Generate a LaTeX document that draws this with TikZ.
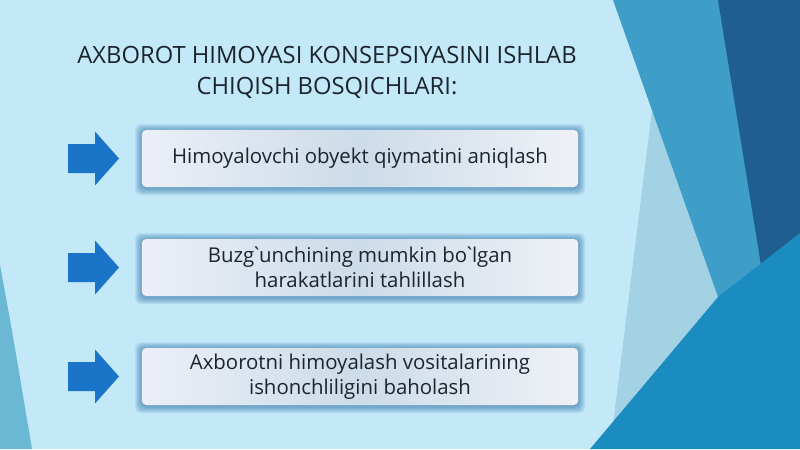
\documentclass[tikz,border=0pt]{standalone}
\usepackage{fontspec}
\setmainfont{Open Sans}[Ligatures=TeXOff]
\usepackage{xcolor}
\usetikzlibrary{calc}
\definecolor{bgblue}{RGB}{195,232,247}
\definecolor{paleblue}{RGB}{164,210,229}
\definecolor{midblue}{RGB}{62,158,200}
\definecolor{navyblue}{RGB}{31,94,142}
\definecolor{brightblue}{RGB}{27,140,191}
\definecolor{edgeblue}{RGB}{106,184,212}
\definecolor{arrowblue}{RGB}{26,116,200}
\definecolor{glowblue}{RGB}{40,110,165}
\definecolor{boxleft}{RGB}{236,239,247}
\definecolor{boxmid}{RGB}{204,220,232}
\definecolor{boxright}{RGB}{240,241,247}
\definecolor{textdark}{RGB}{28,36,46}
\newcommand{\grv}{\kern-0.17em`\kern-0.17em}
\tikzset{
	stepbox/.style={
			draw=none, rounded corners=3pt,
			minimum width=10.9cm, minimum height=1.425cm,
			align=center, text=textdark,
			font=\fontsize{14.5}{18}\selectfont,
			left color=boxleft, right color=boxright, middle color=boxmid
		},
	steparrow/.style={fill=arrowblue},
	glow/.style={fill=glowblue, opacity=0.1, rounded corners=4pt}
}

\begin{document}
\begin{tikzpicture}[x=0.025cm, y=-0.025cm]
			% Background and frame
			\fill[bgblue] (0,0) rectangle (800,449);
			\useasboundingbox (0,0) rectangle (800,449);

			% Facets on the right and left edges
			\fill[paleblue] (652,110) -- (718,297) -- (610,449) -- cycle;
			\fill[midblue] (613,0) -- (800,0) -- (800,300) -- (718,297) -- cycle;
			\fill[navyblue] (718,0) -- (800,0) -- (800,240) -- (765,290) -- cycle;
			\fill[brightblue] (590,449) -- (718,297) -- (800,233) -- (800,449) -- cycle;
			\fill[edgeblue] (0,265) .. controls (12,330) .. (32,449) -- (0,449) -- cycle;

			% Title
			\node[text=textdark, align=center, font=\fontsize{16.9}{22}\selectfont] (title) at (327,72)
				{AXBOROT HIMOYASI KONSEPSIYASINI ISHLAB\\CHIQISH BOSQICHLARI:};

			% Steps with their arrows
			\foreach \i/\y/\txt in {1/158.5/{Himoyalovchi obyekt qiymatini aniqlash},
					2/267.5/{Buzg\grv unchining mumkin bo\grv lgan\\harakatlarini tahlillash},
					3/376.5/{Axborotni himoyalash vositalarining\\ishonchliligini baholash}}{
					\foreach \k in {1,...,7}
						\fill[glow] (142-\k,\y-28.5-\k+1) rectangle (578+\k,\y+28.5+\k+1);
					\node[stepbox] (step\i) at (360,\y) {\txt};
					\fill[steparrow] (68,\y-14.5) -- (95,\y-14.5) -- (95,\y-27) -- (119,\y)
						-- (95,\y+27) -- (95,\y+14.5) -- (68,\y+14.5) -- cycle;
				}
		\end{tikzpicture}
\end{document}
